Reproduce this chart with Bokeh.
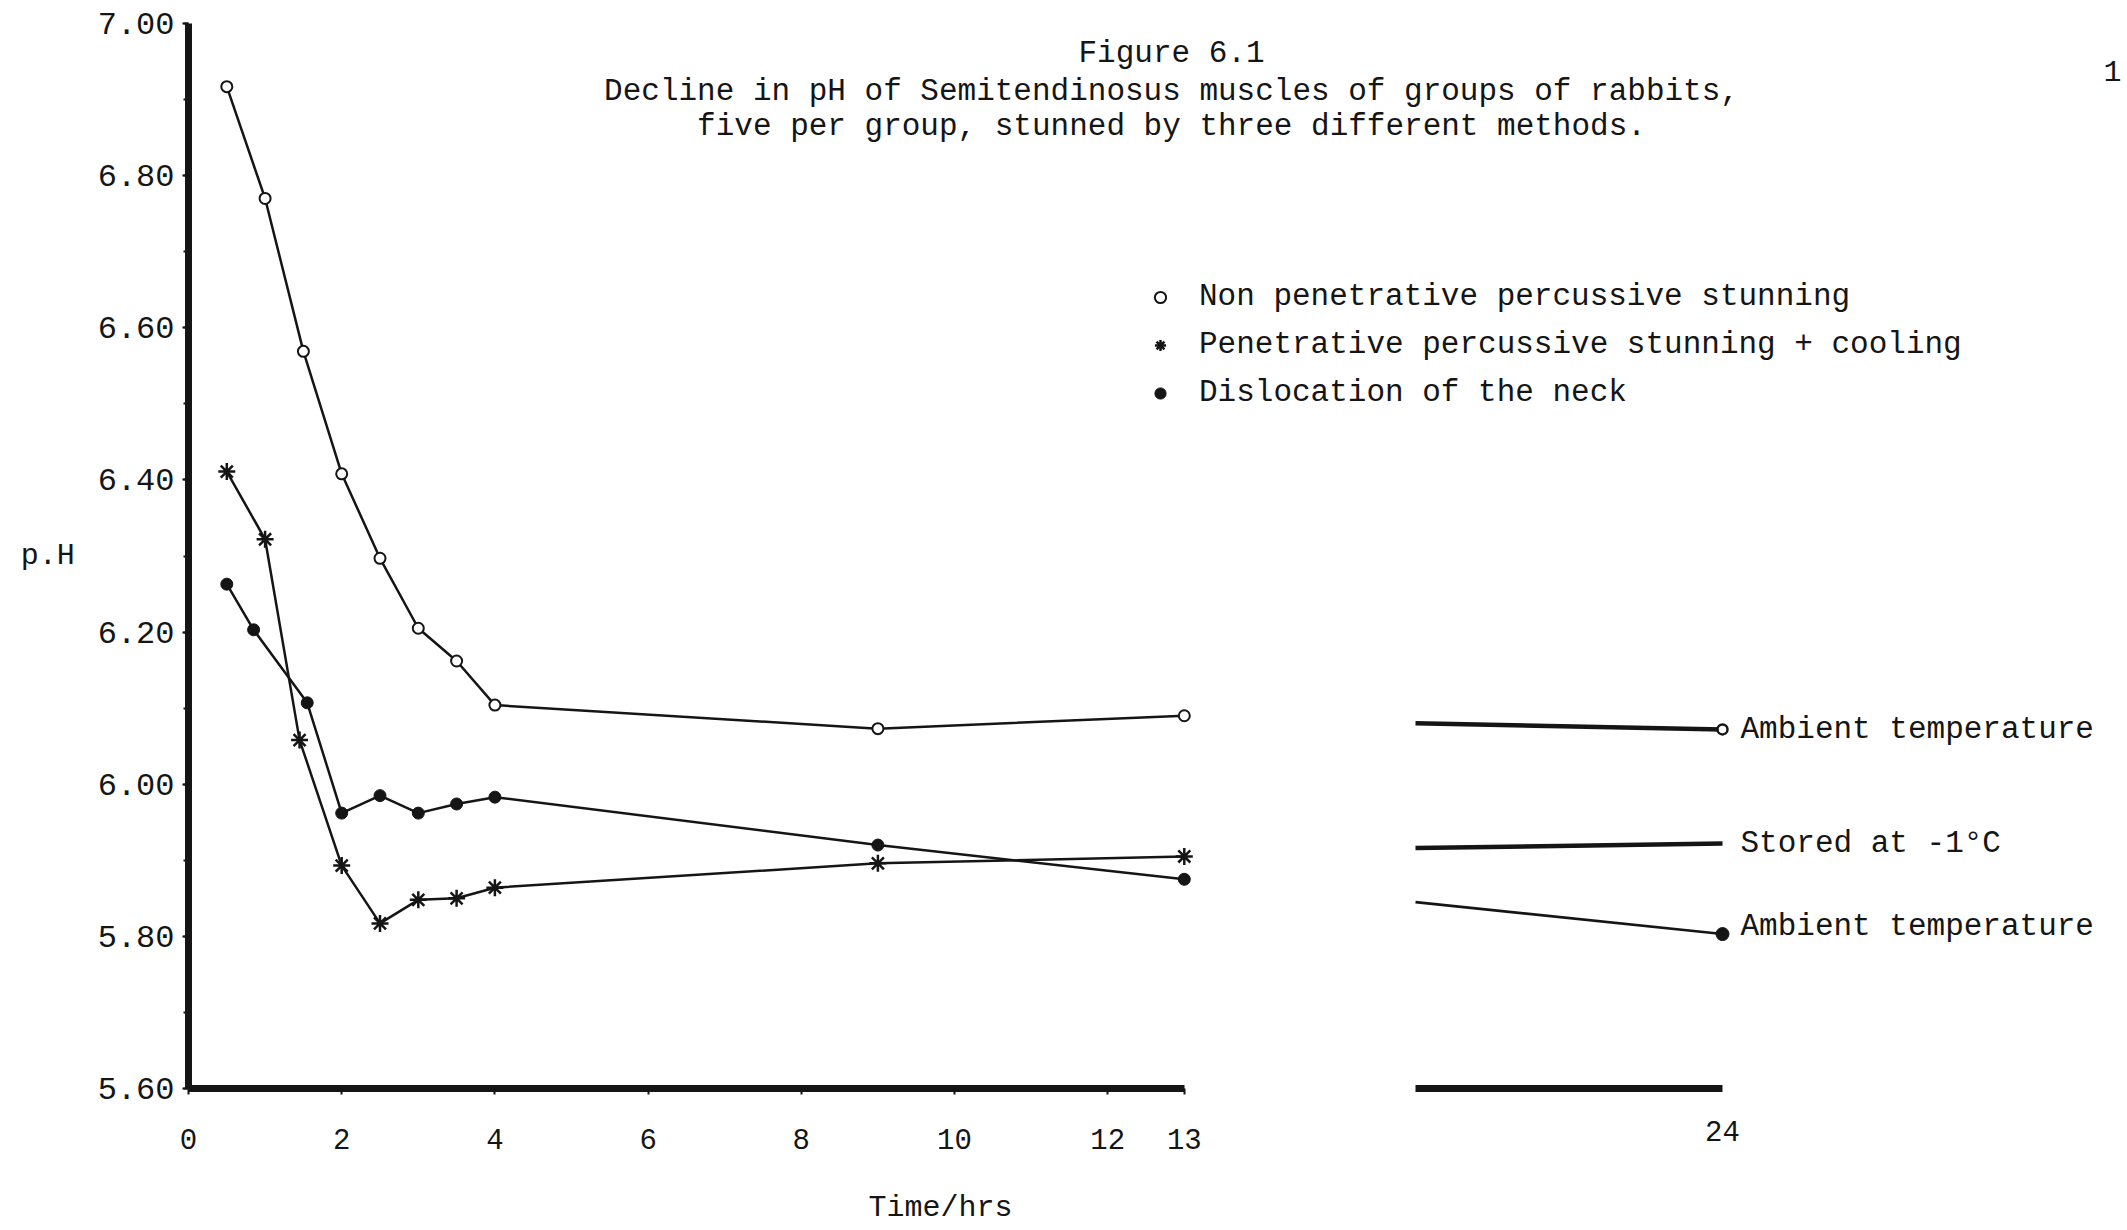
from bokeh.plotting import figure
from bokeh.models import (Range1d, LinearAxis, FixedTicker, SingleIntervalTicker,
                          PrintfTickFormatter, Label, Legend, LegendItem, Title)
from bokeh.embed import file_html
from bokeh.resources import INLINE

# ---------------- data ----------------
times_np = [0.5, 1, 1.5, 2, 2.5, 3, 3.5, 4, 9, 13]
ph_non_penetrative = [6.917, 6.770, 6.569, 6.408, 6.297, 6.205, 6.162, 6.104, 6.073, 6.090]

times_pc = [0.5, 1, 1.45, 2, 2.5, 3, 3.5, 4, 9, 13]
ph_penetrative_cooling = [6.411, 6.322, 6.058, 5.893, 5.817, 5.848, 5.850, 5.864, 5.896, 5.905]

times_dn = [0.5, 0.85, 1.55, 2, 2.5, 3, 3.5, 4, 9, 13]
ph_dislocation = [6.263, 6.203, 6.107, 5.962, 5.985, 5.962, 5.974, 5.983, 5.920, 5.875]

# continuation segment after the axis break (hours 20 -> 24)
times_right = [20, 24]
ph_np_right = [6.080, 6.072]
ph_pc_right = [5.916, 5.922]
ph_dn_right = [5.845, 5.803]

x_ticks = [0, 2, 4, 6, 8, 10, 12, 13]
x_right_ticks = [24]
x_main_bounds = (0, 13)
x_right_bounds = (20, 24)

legend_labels = ["Non penetrative percussive stunning",
                 "Penetrative percussive stunning + cooling",
                 "Dislocation of the neck"]
right_labels = ["Ambient temperature", "Stored at -1\u00b0C", "Ambient temperature"]
title_lines = ["Figure 6.1",
               "Decline in pH of Semitendinosus muscles of groups of rabbits,",
               "five per group, stunned by three different methods."]
x_title = "Time/hrs"
y_title = "p.H"

# ---------------- layout ----------------
W, H = 2125, 1230
FL, FR, FT, FB = 188, 2, 23, 142
frame_w = W - FL - FR
PX_HR = 76.6
PX_HR_R = 76.75
right_start = 20 - (1415 - FL) / PX_HR_R

FONT = "Liberation Mono"
INK = "#151515"

p = figure(width=W, height=H, output_backend="svg", toolbar_location=None,
           x_range=Range1d(0, frame_w / PX_HR), y_range=Range1d(5.6, 7.0),
           x_axis_type=None, y_axis_type=None,
           min_border_left=FL, min_border_right=FR, min_border_top=FT, min_border_bottom=FB)
p.extra_x_ranges["right"] = Range1d(right_start, right_start + frame_w / PX_HR_R)
p.outline_line_color = None
p.background_fill_color = "white"
p.border_fill_color = "white"

# ---------------- y axis ----------------
yax = LinearAxis(ticker=SingleIntervalTicker(interval=0.2, num_minor_ticks=2),
                 formatter=PrintfTickFormatter(format="%.2f"),
                 axis_label=y_title, axis_label_orientation="horizontal",
                 axis_label_standoff=20)
yax.axis_line_width = 7
yax.axis_line_color = INK
yax.major_tick_out = 6
yax.major_tick_in = 0
yax.minor_tick_out = 5
yax.minor_tick_in = 0
yax.major_tick_line_width = 2
yax.minor_tick_line_width = 2
yax.major_tick_line_color = INK
yax.minor_tick_line_color = INK
yax.major_label_standoff = 8
yax.major_label_text_font = FONT
yax.major_label_text_font_size = "32px"
yax.major_label_text_color = INK
yax.axis_label_text_font = FONT
yax.axis_label_text_font_size = "30px"
yax.axis_label_text_font_style = "normal"
yax.axis_label_text_color = INK
p.add_layout(yax, "left")

# ---------------- broken x axis (stacked below the frame) ----------------
# 1) line of the segment after the break (zero extent)
rax_line = LinearAxis(x_range_name="right", ticker=FixedTicker(ticks=[], minor_ticks=[]),
                      bounds=x_right_bounds)
rax_line.axis_line_width = 7
rax_line.axis_line_color = INK
rax_line.major_tick_out = 0
rax_line.minor_tick_out = 0
rax_line.major_label_standoff = 0
rax_line.major_label_text_color = None
p.add_layout(rax_line, "below")

# 2) line + ticks of the main segment
xax_line = LinearAxis(ticker=FixedTicker(ticks=x_ticks, minor_ticks=[]), bounds=x_main_bounds)
xax_line.axis_line_width = 7
xax_line.axis_line_color = INK
xax_line.major_tick_out = 6
xax_line.major_tick_in = 0
xax_line.minor_tick_out = 0
xax_line.major_tick_line_width = 2
xax_line.major_tick_line_color = INK
xax_line.major_label_standoff = 0
xax_line.major_label_text_color = None
p.add_layout(xax_line, "below")

# 3) tick label of the segment after the break
rax_lab = LinearAxis(x_range_name="right", ticker=FixedTicker(ticks=x_right_ticks, minor_ticks=[]),
                     bounds=x_right_bounds)
rax_lab.axis_line_color = None
rax_lab.major_tick_out = 0
rax_lab.major_tick_in = 0
rax_lab.minor_tick_out = 0
rax_lab.major_label_standoff = 26
rax_lab.major_label_text_font = FONT
rax_lab.major_label_text_font_size = "29px"
rax_lab.major_label_text_color = INK
p.add_layout(rax_lab, "below")

# 4) tick labels of the main segment
xax = LinearAxis(ticker=FixedTicker(ticks=x_ticks, minor_ticks=[]), bounds=x_main_bounds)
xax.axis_line_color = None
xax.major_tick_out = 0
xax.major_tick_in = 0
xax.minor_tick_out = 0
xax.major_label_standoff = -15
xax.major_label_text_font = FONT
xax.major_label_text_font_size = "29px"
xax.major_label_text_color = INK
p.add_layout(xax, "below")

# 5) x axis title under the first segment (leading blank line gives the gap)
p.add_layout(Title(text="\n" + x_title, align="left", offset=680, standoff=6,
                   text_line_height=1.0,
                   text_font=FONT, text_font_size="30px", text_font_style="normal",
                   text_color=INK), "below")

# ---------------- series ----------------
p.line(times_np, ph_non_penetrative, line_width=2.5, color=INK)
r1 = p.scatter(times_np, ph_non_penetrative, marker="circle", size=11,
               fill_color="white", line_color=INK, line_width=2)

p.line(times_pc, ph_penetrative_cooling, line_width=2.5, color=INK)
r2 = p.scatter(times_pc, ph_penetrative_cooling, marker="asterisk", size=17,
               line_color=INK, line_width=2.5)

p.line(times_dn, ph_dislocation, line_width=2.5, color=INK)
r3 = p.scatter(times_dn, ph_dislocation, marker="circle", size=12,
               fill_color=INK, line_color=INK)

# continuation after the break
p.line(times_right, ph_np_right, x_range_name="right", line_width=4.5, color=INK)
p.scatter(times_right[-1:], ph_np_right[-1:], x_range_name="right", marker="circle",
          size=10, fill_color="white", line_color=INK, line_width=2.5)
p.line(times_right, ph_pc_right, x_range_name="right", line_width=4.5, color=INK)
p.line(times_right, ph_dn_right, x_range_name="right", line_width=2.6, color=INK)
p.scatter(times_right[-1:], ph_dn_right[-1:], x_range_name="right", marker="circle",
          size=13, fill_color=INK, line_color=INK)

label_offsets = [0, 0, 8]
for txt, vals, dy in zip(right_labels, [ph_np_right, ph_pc_right, ph_dn_right], label_offsets):
    p.add_layout(Label(x=times_right[-1], y=vals[-1], x_range_name="right", x_offset=18,
                       y_offset=dy, text=txt, text_align="left", text_baseline="middle",
                       text_font=FONT, text_font_size="31px", text_color=INK))

# ---------------- legend ----------------
legend = Legend(items=[LegendItem(label=legend_labels[0], renderers=[r1]),
                       LegendItem(label=legend_labels[1], renderers=[r2]),
                       LegendItem(label=legend_labels[2], renderers=[r3])],
                location=(958, 678))
legend.glyph_width = 28
legend.glyph_height = 30
legend.label_height = 30
legend.spacing = 13
legend.padding = 0
legend.margin = 0
legend.label_standoff = 25
legend.border_line_color = None
legend.background_fill_alpha = 0
legend.label_text_font = FONT
legend.label_text_font_size = "31px"
legend.label_text_color = INK
p.add_layout(legend)

# ---------------- title ----------------
title_y = [1035, 997, 962]
for txt, ty in zip(title_lines, title_y):
    p.add_layout(Label(x=983, y=ty, x_units="screen", y_units="screen", text=txt,
                       text_align="center", text_baseline="middle",
                       text_font=FONT, text_font_size="31px", text_color=INK))

# page number at the edge of the scan
p.add_layout(Label(x=1915, y=1018, x_units="screen", y_units="screen", text="1",
                   text_align="left", text_baseline="middle",
                   text_font=FONT, text_font_size="30px", text_color=INK))

open("out.html", "w").write(file_html(p, INLINE))
